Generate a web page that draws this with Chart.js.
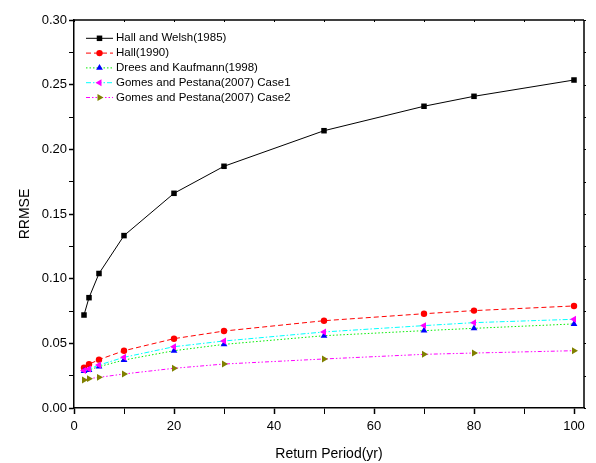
<!DOCTYPE html>
<html><head><meta charset="utf-8">
<script src="https://cdn.jsdelivr.net/npm/chart.js@4.4.1/dist/chart.umd.min.js"></script>
<style>html,body{margin:0;padding:0;background:#fff}canvas{display:block}</style>
</head><body>
<canvas id="c" width="596" height="463"></canvas>
<script>
// ---- data ----
const returnPeriods = [2, 3, 5, 10, 20, 30, 50, 70, 80, 100];
const hallWelsh1985 = [0.0719, 0.0853, 0.1040, 0.1333, 0.1660, 0.1869, 0.2144, 0.2333, 0.2410, 0.2536];
const hall1990      = [0.0312, 0.0338, 0.0374, 0.0443, 0.0536, 0.0595, 0.0675, 0.0729, 0.0753, 0.0789];
const dreesKaufmann = [0.0286, 0.0294, 0.0320, 0.0371, 0.0443, 0.0492, 0.0559, 0.0598, 0.0616, 0.0650];
const gomesCase1    = [0.0289, 0.0302, 0.0332, 0.0392, 0.0474, 0.0518, 0.0588, 0.0637, 0.0660, 0.0686];
const gomesCase2    = [0.0217, 0.0227, 0.0237, 0.0263, 0.0307, 0.0340, 0.0379, 0.0415, 0.0425, 0.0443];
const seriesNames = ['Hall and Welsh(1985)', 'Hall(1990)', 'Drees and Kaufmann(1998)', 'Gomes and Pestana(2007) Case1', 'Gomes and Pestana(2007) Case2'];
const xTickValues = [0, 10, 20, 30, 40, 50, 60, 70, 80, 90, 100];
const yTickValues = [0, 0.025, 0.05, 0.075, 0.10, 0.125, 0.15, 0.175, 0.20, 0.225, 0.25, 0.275, 0.30];
const xAxisTitle = 'Return Period(yr)';
const yAxisTitle = 'RRMSE';

// ---- styles ----
const FONT = "'Liberation Sans', Arial, Helvetica, sans-serif";
Chart.defaults.font.family = FONT;
Chart.defaults.color = '#000';

const styles = [
  {line: '#000000', point: '#000000', dash: [], shape: 'rect', radius: 3.9, rot: 0},
  {line: '#ff0000', point: '#ff0000', dash: [5, 3], shape: 'circle', radius: 3.2, rot: 0},
  {line: '#00ee00', point: '#0000ff', dash: [1.5, 2], shape: 'triangle', radius: 3.9, rot: 0},
  {line: '#00ffff', point: '#ff00ff', dash: [5, 2, 1.5, 2], shape: 'triangle', radius: 4, rot: -90},
  {line: '#ff00ff', point: '#808000', dash: [4, 2, 1.5, 2, 1.5, 2], shape: 'triangle', radius: 4, rot: 90}
];
const seriesValues = [hallWelsh1985, hall1990, dreesKaufmann, gomesCase1, gomesCase2];

const datasets = seriesValues.map((vals, i) => ({
  label: seriesNames[i],
  data: returnPeriods.map((x, j) => ({x: x, y: vals[j]})),
  borderColor: styles[i].line,
  borderWidth: 1,
  borderDash: styles[i].dash,
  backgroundColor: styles[i].point,
  pointBackgroundColor: styles[i].point,
  pointBorderColor: styles[i].point,
  pointBorderWidth: 0,
  pointStyle: styles[i].shape,
  pointRadius: styles[i].radius,
  pointRotation: styles[i].rot,
  tension: 0,
  fill: false,
  order: 4 - i
}));

function drawMarker(ctx, st, x, y) {
  ctx.save();
  ctx.fillStyle = st.point;
  ctx.setLineDash([]);
  const r = st.radius;
  ctx.beginPath();
  if (st.shape === 'rect') {
    const s = Math.SQRT1_2 * r;
    ctx.rect(x - s, y - s, 2 * s, 2 * s);
  } else if (st.shape === 'circle') {
    ctx.arc(x, y, r, 0, Math.PI * 2);
  } else {
    let rad = st.rot * Math.PI / 180;
    ctx.moveTo(x + Math.sin(rad) * r, y - Math.cos(rad) * r);
    rad += 2 * Math.PI / 3;
    ctx.lineTo(x + Math.sin(rad) * r, y - Math.cos(rad) * r);
    rad += 2 * Math.PI / 3;
    ctx.lineTo(x + Math.sin(rad) * r, y - Math.cos(rad) * r);
    ctx.closePath();
  }
  ctx.fill();
  ctx.restore();
}

const framePlugin = {
  id: 'frame',
  afterDraw(chart) {
    const ctx = chart.ctx, a = chart.chartArea;
    const ys = chart.scales.y, xs = chart.scales.x;
    ctx.save();
    ctx.strokeStyle = '#000';
    ctx.lineWidth = 1.5;
    ctx.setLineDash([]);
    ctx.beginPath();
    ctx.moveTo(a.left, a.top); ctx.lineTo(a.right, a.top);
    ctx.moveTo(a.right, a.top); ctx.lineTo(a.right, a.bottom);
    ctx.stroke();
    // small ticks on right and top edges
    ctx.lineWidth = 1;
    ctx.beginPath();
    yTickValues.forEach(v => {
      const p = Math.round(ys.getPixelForValue(v)) + 0.5;
      ctx.moveTo(a.right, p); ctx.lineTo(a.right + 2, p);
    });
    xTickValues.forEach(v => {
      const p = Math.round(xs.getPixelForValue(v)) + 0.5;
      ctx.moveTo(p, a.top); ctx.lineTo(p, a.top + 2);
    });
    ctx.stroke();
    // legend
    const lx0 = 86, lx1 = 113, mx = 99.5, tx = 116, y0 = 38.3, dy = 14.8;
    ctx.font = '11.5px ' + FONT;
    ctx.textBaseline = 'middle';
    ctx.textAlign = 'left';
    seriesNames.forEach((name, i) => {
      const y = y0 + i * dy;
      const st = styles[i];
      ctx.strokeStyle = st.line;
      ctx.lineWidth = 1;
      ctx.setLineDash(st.dash);
      ctx.beginPath();
      ctx.moveTo(lx0, y); ctx.lineTo(lx1, y);
      ctx.stroke();
      drawMarker(ctx, st, mx, y);
      ctx.setLineDash([]);
      ctx.fillStyle = '#000';
      ctx.fillText(name, tx, y);
    });
    ctx.restore();
  }
};

new Chart(document.getElementById('c'), {
  type: 'line',
  data: {datasets: datasets},
  options: {
    responsive: false,
    animation: false,
    events: [],
    layout: {padding: {left: 0, right: 12, top: 20, bottom: 0}},
    plugins: {legend: {display: false}, tooltip: {enabled: false}},
    scales: {
      x: {
        type: 'linear', position: 'bottom', min: 0, max: 102,
        afterBuildTicks: s => { s.ticks = xTickValues.map(v => ({value: v})); },
        afterFit: s => { s.height = 55; },
        ticks: {
          autoSkip: false, maxRotation: 0, padding: 5,
          font: {size: 13}, color: '#000',
          callback: (v) => (Math.round(v) % 20 === 0 ? String(Math.round(v)) : '')
        },
        grid: {
          display: true, drawOnChartArea: false, drawTicks: true, tickLength: 6,
          tickColor: '#000', tickWidth: c => (c.tick && Math.round(c.tick.value) % 20 === 0 ? 1.5 : 1)
        },
        border: {display: true, color: '#000', width: 1.5},
        title: {display: true, text: xAxisTitle, font: {size: 14}, color: '#000', padding: {top: 0, bottom: 0}}
      },
      y: {
        type: 'linear', position: 'left', min: 0, max: 0.30,
        afterBuildTicks: s => { s.ticks = yTickValues.map(v => ({value: v})); },
        afterFit: s => { s.width = 74; },
        ticks: {
          autoSkip: false, padding: 2,
          font: {size: 13}, color: '#000',
          callback: (v) => (Math.round(v * 1000) % 50 === 0 ? v.toFixed(2) : '')
        },
        grid: {
          display: true, drawOnChartArea: false, drawTicks: true, tickLength: 5,
          tickColor: '#000', tickWidth: c => (c.tick && Math.round(c.tick.value * 1000) % 50 === 0 ? 1.5 : 1)
        },
        border: {display: true, color: '#000', width: 1.5},
        title: {display: true, text: yAxisTitle, font: {size: 14}, color: '#000', padding: {top: 17, bottom: 0}}
      }
    }
  },
  plugins: [framePlugin]
});
</script>
</body></html>
